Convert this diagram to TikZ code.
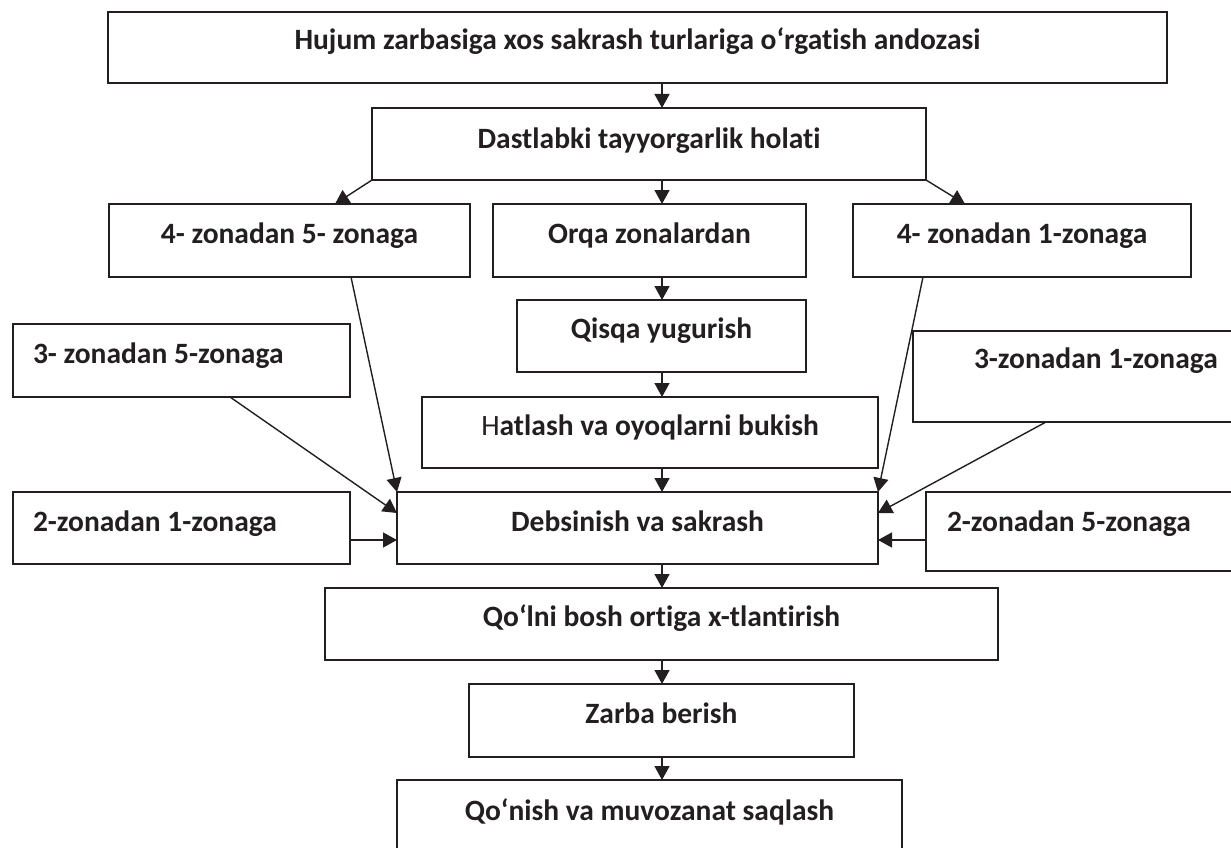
\documentclass[tikz,border=0pt]{standalone}
\usepackage{fontspec}
\setmainfont{Carlito}[Ligatures=NoCommon]
\usetikzlibrary{arrows.meta}
\definecolor{ink}{HTML}{231F20}
\begin{document}
\begin{tikzpicture}[x=1pt,y=-1pt,
  box/.style={draw=ink, line width=1.8pt, rectangle, anchor=north west, outer sep=0pt, inner sep=0pt,
    text=ink, font=\fontsize{29.5pt}{34pt}\selectfont\bfseries, text height=19pt, text depth=14pt},
  lbox/.style={box, inner xsep=20pt},
  arr/.style={draw=ink, line width=1.4pt, -{Triangle[length=14pt,width=15pt]}}]
\useasboundingbox (0,0) rectangle (1231,848);
\fill[white] (0,0) rectangle (1231,848);
\node[box, minimum width=1059pt, minimum height=71pt] (top) at (108,12) {Hujum zarbasiga xos sakrash turlariga o‘rgatish andozasi};
\node[box, minimum width=554pt, minimum height=72pt, text depth=11pt] (dast) at (372,108) {Dastlabki tayyorgarlik holati};
\node[box, minimum width=361pt, minimum height=73pt] (z45) at (109,204) {4- zonadan 5- zonaga};
\node[box, minimum width=313pt, minimum height=73pt] (orqa) at (493,204) {Orqa zonalardan};
\node[box, minimum width=338pt, minimum height=73pt] (z41) at (853,204) {4- zonadan 1-zonaga};
\node[box, minimum width=289pt, minimum height=72pt, text depth=15pt] (qisqa) at (517,300) {Qisqa yugurish};
\node[lbox, minimum height=73pt] (z35) at (13,324) {\makebox[297pt][l]{3- zonadan 5-zonaga}};
\node[lbox, inner xsep=61pt, minimum height=91pt, text depth=36pt] (z31) at (913,331) {\makebox[265pt][l]{3-zonadan 1-zonaga}};
\node[box, minimum width=456pt, minimum height=71pt] (hatlash) at (422,397) {{\mdseries H}atlash va oyoqlarni bukish};
\node[box, minimum width=481pt, minimum height=72pt, text depth=13pt] (debs) at (397,492) {Debsinish va sakrash};
\node[lbox, minimum height=72pt, text depth=13pt] (z21) at (13,492) {\makebox[297pt][l]{2-zonadan 1-zonaga}};
\node[lbox, inner xsep=21pt, minimum height=79pt, text depth=20pt] (z25) at (926,492) {\makebox[332pt][l]{2-zonadan 5-zonaga}};
\node[box, minimum width=673pt, minimum height=72pt, text depth=15pt] (qolni) at (325,588) {Qo‘lni bosh ortiga x-tlantirish};
\node[box, minimum width=385pt, minimum height=73pt] (zarba) at (469,684) {Zarba berish};
\node[box, minimum width=505pt, minimum height=90pt, text depth=29pt] (qonish) at (397,780) {Qo‘nish va muvozanat saqlash};
\coordinate (col) at (662,0);
\draw[arr] (top.south -| col) -- (dast.north -| col);
\draw[arr] (dast.south west) -- ([xshift=226pt]z45.north west);
\draw[arr] (dast.south -| col) -- (orqa.north -| col);
\draw[arr] (dast.south east) -- ([xshift=112pt]z41.north west);
\draw[arr] (orqa.south -| col) -- (qisqa.north -| col);
\draw[arr] (qisqa.south -| col) -- (hatlash.north -| col);
\draw[arr] (hatlash.south -| col) -- (debs.north -| col);
\draw[arr] ([xshift=242pt]z45.south west) -- (debs.north west);
\draw[arr] ([xshift=70pt]z41.south west) -- (debs.north east);
\draw[arr] ([xshift=217pt]z35.south west) -- ([yshift=-21pt]debs.north west);
\draw[arr] ([xshift=133pt]z31.south west) -- ([yshift=-21pt]debs.north east);
\draw[arr] ([yshift=-12pt]z21.east) -- ([yshift=-12pt]debs.west);
\draw[arr] ([yshift=-8.5pt]z25.west) -- ([yshift=-12pt]debs.east);
\draw[arr] (debs.south -| col) -- (qolni.north -| col);
\draw[arr] (qolni.south -| col) -- (zarba.north -| col);
\draw[arr] (zarba.south -| col) -- (qonish.north -| col);
\end{tikzpicture}
\end{document}
